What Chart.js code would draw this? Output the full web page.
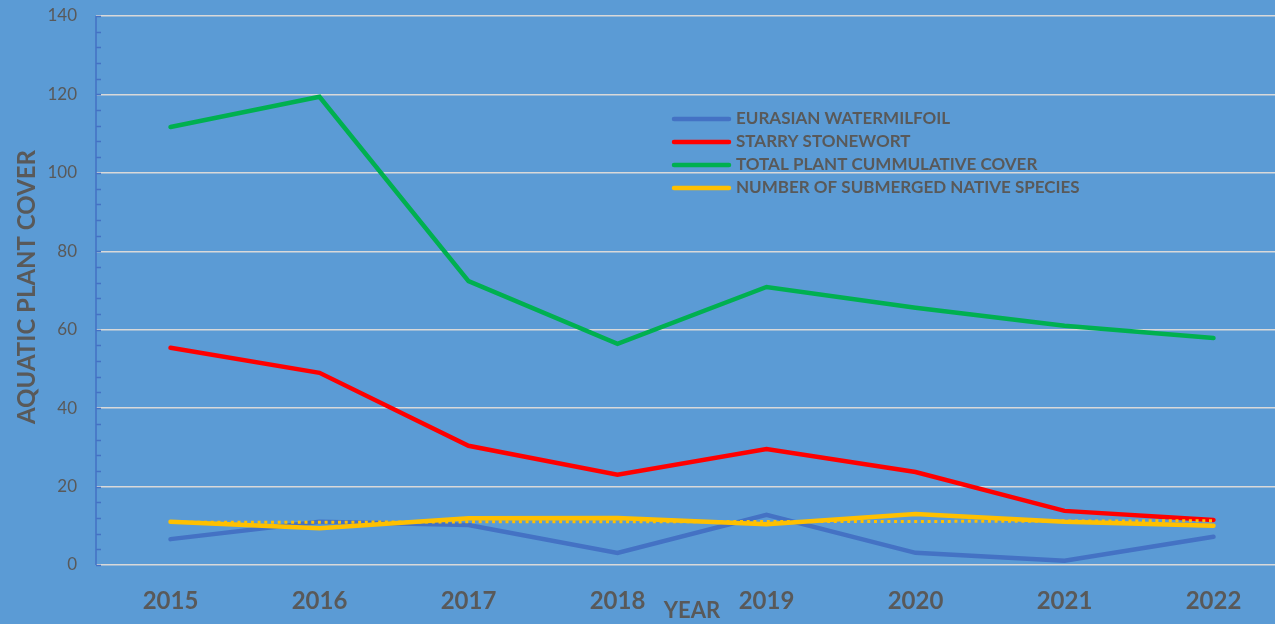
<!DOCTYPE html>
<html>
<head>
<meta charset="utf-8">
<script src="https://cdn.jsdelivr.net/npm/chart.js@4"></script>
<style>
  html, body { margin: 0; padding: 0; background: #5B9BD5; overflow: hidden; }
  #wrap { width: 1290px; height: 624px; }
</style>
</head>
<body>
<div id="wrap"><canvas id="plantChart"></canvas></div>
<script>
// chart data
const years = ["2015", "2016", "2017", "2018", "2019", "2020", "2021", "2022"];
const watermilfoil = [6.6, 11, 10.2, 3.1, 12.8, 3.1, 1.1, 7.2];
const stonewort = [55.4, 49, 30.4, 23, 29.6, 23.7, 13.8, 11.5];
const totalCover = [111.7, 119.4, 72.4, 56.4, 70.9, 65.6, 61, 57.9];
const nativeSpecies = [11, 9.4, 11.9, 12, 10.4, 13, 11, 10];
const nativeTrend = [10.9, 10.9, 11, 11, 11.1, 11.1, 11.2, 11.3];
const yTicks = [0, 20, 40, 60, 80, 100, 120, 140];

const GREY = "#595959";
const FONT = "Lato, 'Open Sans', sans-serif";

// axis titles, left axis line with minor ticks, legend inside the plot
const extras = {
  id: "extras",
  afterDraw(chart) {
    const { ctx, chartArea, scales } = chart;
    const y = scales.y;
    ctx.save();

    // y axis line + inward ticks
    ctx.strokeStyle = "#4472C4";
    ctx.lineWidth = 1.5;
    ctx.beginPath();
    ctx.moveTo(chartArea.left, y.getPixelForValue(140));
    ctx.lineTo(chartArea.left, y.getPixelForValue(0));
    for (let v = 0; v <= 140; v += 4) {
      const py = Math.round(y.getPixelForValue(v)) + 0.5;
      ctx.moveTo(chartArea.left, py);
      ctx.lineTo(chartArea.left + 5, py);
    }
    ctx.stroke();

    // axis titles
    ctx.fillStyle = GREY;
    ctx.font = "bold 22px " + FONT;
    ctx.textAlign = "center";
    ctx.textBaseline = "middle";
    ctx.fillText("YEAR", (chartArea.left + chartArea.right) / 2, 611);
    ctx.translate(27, 287);
    ctx.rotate(-Math.PI / 2);
    ctx.font = "bold 24px " + FONT;
    ctx.fillText("AQUATIC PLANT COVER", 0, 0);
    ctx.setTransform(1, 0, 0, 1, 0, 0);

    // legend
    ctx.font = "bold 17px " + FONT;
    ctx.textAlign = "left";
    ctx.lineCap = "round";
    chart.data.datasets.filter(d => !d.noLegend).forEach((d, i) => {
      const ly = 119 + i * 23;
      ctx.strokeStyle = d.borderColor;
      ctx.lineWidth = 4.5;
      ctx.beginPath();
      ctx.moveTo(674, ly);
      ctx.lineTo(729, ly);
      ctx.stroke();
      ctx.fillStyle = GREY;
      ctx.fillText(d.label, 736, ly);
    });
    ctx.restore();
  }
};

new Chart(document.getElementById("plantChart"), {
  type: "line",
  data: {
    labels: years,
    datasets: [
      { label: "EURASIAN WATERMILFOIL", data: watermilfoil, borderColor: "#4472C4", order: 4 },
      { label: "STARRY STONEWORT", data: stonewort, borderColor: "#FF0000", order: 3 },
      { label: "TOTAL PLANT CUMMULATIVE COVER", data: totalCover, borderColor: "#00B050", order: 2 },
      { label: "NUMBER OF SUBMERGED NATIVE SPECIES", data: nativeSpecies, borderColor: "#FFC000", order: 1 },
      { label: "trend", data: nativeTrend, borderColor: "#FFC000", borderWidth: 3,
        borderDash: [3, 3.7], borderCapStyle: "butt", order: 0, noLegend: true }
    ].map(d => Object.assign({ borderWidth: 4.5, pointRadius: 0, tension: 0, fill: false,
      borderCapStyle: "round" }, d))
  },
  options: {
    responsive: true,
    maintainAspectRatio: false,
    animation: false,
    layout: { padding: { top: 16, right: 2, left: 0, bottom: 0 } },
    plugins: { legend: { display: false }, tooltip: { enabled: false } },
    scales: {
      x: {
        offset: true,
        grid: { display: false, drawTicks: false },
        border: { display: false },
        ticks: { color: GREY, padding: 22, font: { family: FONT, size: 24, weight: "bold" } },
        afterFit: s => { s.height = 59; s.paddingLeft = 0; s.paddingRight = 0; }
      },
      y: {
        min: 0,
        max: 140,
        afterBuildTicks: s => { s.ticks = yTicks.map(v => ({ value: v })); },
        grid: { color: "#D9D9D9", lineWidth: 1.5, drawTicks: false },
        border: { display: false },
        ticks: { color: GREY, padding: 19, font: { family: FONT, size: 17 } },
        afterFit: s => { s.width = 96; s.paddingTop = 0; s.paddingBottom = 0; }
      }
    }
  },
  plugins: [extras]
});
</script>
</body>
</html>
